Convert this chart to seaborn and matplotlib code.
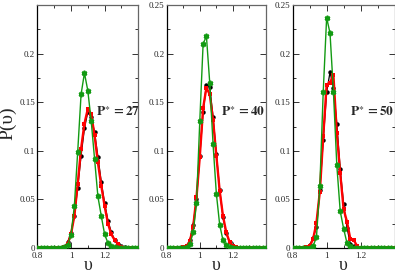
import numpy as np
import pandas as pd
import matplotlib
matplotlib.use("Agg")
import matplotlib.pyplot as plt
import seaborn as sns

sns.set_style("ticks")
plt.rcParams['font.family'] = ['Liberation Serif', 'DejaVu Serif']
plt.rcParams['mathtext.fontset'] = 'stix'

upsilon = [0.80, 0.82, 0.84, 0.86, 0.88, 0.90, 0.92, 0.94, 0.96, 0.98,
           1.00, 1.02, 1.04, 1.06, 1.08, 1.10, 1.12, 1.14, 1.16, 1.18,
           1.20, 1.22, 1.24, 1.26, 1.28, 1.30, 1.32, 1.34, 1.36, 1.38, 1.40]

# P* = 27
p27_black = [0, 0, 0, 0, 0, 0, 0, 0, 0.001, 0.006,
             0.015, 0.033, 0.062, 0.095, 0.123, 0.140, 0.135, 0.119, 0.094, 0.068,
             0.046, 0.028, 0.016, 0.008, 0.004, 0.002, 0.001, 0, 0, 0, 0]
p27_red = [0, 0, 0, 0, 0, 0, 0, 0, 0.001, 0.004,
           0.014, 0.033, 0.066, 0.102, 0.128, 0.143, 0.138, 0.116, 0.088, 0.064,
           0.043, 0.025, 0.014, 0.008, 0.004, 0.001, 0, 0, 0, 0, 0]
p27_green = [0, 0, 0, 0, 0, 0, 0, 0, 0.001, 0.003,
             0.013, 0.043, 0.099, 0.158, 0.180, 0.162, 0.131, 0.092, 0.053, 0.033,
             0.014, 0.005, 0.002, 0.001, 0, 0, 0, 0, 0, 0, 0]

# P* = 40
p40_black = [0, 0, 0, 0, 0, 0.001, 0.002, 0.008, 0.024, 0.050,
             0.095, 0.140, 0.168, 0.166, 0.135, 0.097, 0.060, 0.032, 0.015, 0.006,
             0.002, 0.001, 0, 0, 0, 0, 0, 0, 0, 0, 0]
p40_red = [0, 0, 0, 0, 0, 0.001, 0.002, 0.007, 0.022, 0.052,
           0.094, 0.144, 0.165, 0.158, 0.132, 0.095, 0.059, 0.033, 0.016, 0.006,
           0.002, 0.001, 0, 0, 0, 0, 0, 0, 0, 0, 0]
p40_green = [0, 0, 0, 0, 0, 0, 0.001, 0.004, 0.016, 0.046,
             0.131, 0.210, 0.218, 0.170, 0.107, 0.056, 0.024, 0.008, 0.003, 0.001,
             0, 0, 0, 0, 0, 0, 0, 0, 0, 0, 0]

# P* = 50
p50_black = [0, 0, 0, 0, 0.001, 0.003, 0.010, 0.022, 0.060, 0.111,
             0.160, 0.181, 0.165, 0.128, 0.081, 0.045, 0.021, 0.004, 0.002, 0.001,
             0, 0, 0, 0, 0, 0, 0, 0, 0, 0, 0]
p50_red = [0, 0, 0, 0, 0.001, 0.002, 0.009, 0.026, 0.058, 0.115,
           0.168, 0.170, 0.178, 0.118, 0.077, 0.040, 0.027, 0.009, 0.008, 0.002,
           0, 0, 0, 0, 0, 0, 0, 0, 0, 0, 0]
p50_green = [0, 0, 0, 0, 0, 0, 0.002, 0.011, 0.064, 0.161,
             0.237, 0.221, 0.161, 0.085, 0.038, 0.020, 0.005, 0.002, 0, 0,
             0, 0, 0, 0, 0, 0, 0, 0, 0, 0, 0]

panel_labels = ["27", "40", "50"]
panel_series = [(p27_black, p27_red, p27_green),
                (p40_black, p40_red, p40_green),
                (p50_black, p50_red, p50_green)]
text_x = [1.15, 1.13, 1.135]

W, H = 395, 273
fig = plt.figure(figsize=(W / 100, H / 100), dpi=100)
lefts = [37.3, 166.7, 292.7]
rights = [138.3, 266.0, 394.5]
top, bottom = 5.0, 248.0

green_c = '#129a12'
for i in range(3):
    ax = fig.add_axes([lefts[i] / W, 1 - bottom / H,
                       (rights[i] - lefts[i]) / W, (bottom - top) / H])
    blk, red, grn = panel_series[i]
    sns.lineplot(x=upsilon, y=blk, ax=ax, color='black', linewidth=0.9,
                 marker='o', markersize=3.2, markeredgewidth=0, zorder=3)
    sns.lineplot(x=upsilon, y=red, ax=ax, color='#ff0000', linewidth=1.7,
                 marker='s', markersize=3.2, markeredgewidth=0, zorder=4)
    sns.lineplot(x=upsilon, y=grn, ax=ax, color=green_c, linewidth=1.0,
                 marker=(6, 2, 0), markersize=4.0, markeredgewidth=1.2,
                 markeredgecolor=green_c, zorder=5)
    ax.set_xlim(0.8, 1.4)
    ax.set_ylim(0, 0.25)
    ax.set_xticks([0.8, 1.0, 1.2])
    ax.set_xticklabels(["0.8", "1", "1.2"])
    ax.set_xticks([0.9, 1.1, 1.3], minor=True)
    if i == 0:
        yt = [0, 0.05, 0.1, 0.15, 0.2]
        yl = ["0", "0.05", "0.1", "0.15", "0.2"]
    else:
        yt = [0, 0.05, 0.1, 0.15, 0.2, 0.25]
        yl = ["0", "0.05", "0.1", "0.15", "0.2", "0.25"]
    ax.set_yticks(yt)
    ax.set_yticklabels(yl)
    ax.set_yticks([0.025, 0.075, 0.125, 0.175, 0.225], minor=True)
    ax.tick_params(which='both', direction='in', top=True, right=True,
                   labelsize=6.5, width=0.7, color='#333333')
    ax.tick_params(axis='y', pad=1.5)
    ax.tick_params(axis='x', pad=3)
    ax.tick_params(which='major', length=4)
    ax.tick_params(which='minor', length=2)
    for s in ['left', 'bottom']:
        ax.spines[s].set_color('black')
        ax.spines[s].set_linewidth(0.9)
    for s in ['top', 'right']:
        ax.spines[s].set_color('#666666')
        ax.spines[s].set_linewidth(0.9)
    ax.set_xlabel("υ", fontsize=13, labelpad=-2)
    ax.set_ylabel("")
    ax.text(text_x[i], 0.14, r"$\mathbf{P}^{\ast}\,\mathbf{=" + panel_labels[i] + "}$",
            fontsize=9.5, ha='left', va='center', zorder=6)

fig.text(8 / W, 1 - 123 / H, "P(υ)", rotation=90, fontsize=14,
         ha='center', va='center')

fig.savefig("out.png", dpi=100)
